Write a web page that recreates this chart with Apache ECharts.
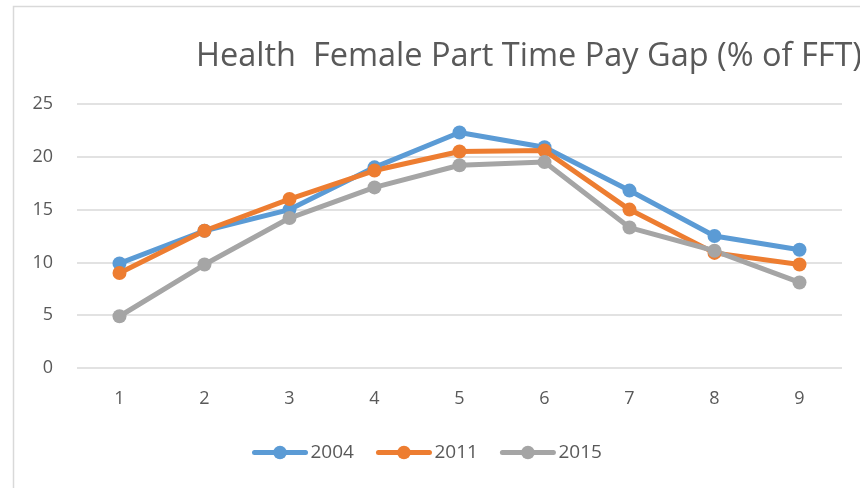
<!DOCTYPE html>
<html>
<head>
<meta charset="utf-8">
<script src="https://cdn.jsdelivr.net/npm/echarts@6/dist/echarts.min.js"></script>
<style>
  html, body { margin: 0; padding: 0; background: #fff; }
  #chart { width: 860px; height: 488px; }
</style>
</head>
<body>
<div id="chart"></div>
<script>
const categories = ['1', '2', '3', '4', '5', '6', '7', '8', '9'];
const gap2004 = [9.9, 13.0, 15.0, 19.0, 22.3, 20.9, 16.8, 12.5, 11.2];
const gap2011 = [9.0, 13.0, 16.0, 18.7, 20.5, 20.6, 15.0, 10.9, 9.8];
const gap2015 = [4.9, 9.8, 14.2, 17.1, 19.2, 19.5, 13.3, 11.1, 8.1];
const seriesNames = ['2004', '2011', '2015'];
const colors = ['#5b9bd5', '#ed7d31', '#a5a5a5'];

const FONT = '"Open Sans", "Noto Sans", sans-serif';
const TEXT = '#595959';

function lineSeries(name, data, color) {
  return {
    name: name,
    type: 'line',
    data: data,
    color: color,
    symbol: 'circle',
    symbolSize: 14,
    lineStyle: { width: 5, color: color, cap: 'round', join: 'round' },
    itemStyle: { color: color },
    emphasis: { disabled: true },
    animation: false
  };
}

const chart = echarts.init(document.getElementById('chart'), null, { renderer: 'canvas' });
chart.setOption({
  backgroundColor: '#fff',
  graphic: [{
    type: 'rect',
    shape: { x: 13.5, y: 6.5, width: 1000, height: 600 },
    style: { fill: 'none', stroke: '#d9d9d9', lineWidth: 1.5 },
    silent: true
  }],
  title: {
    text: 'Health  Female Part Time Pay Gap (% of FFT)',
    left: 191,
    top: 35,
    textStyle: { fontFamily: FONT, fontSize: 32.5, fontWeight: 'normal', color: TEXT }
  },
  legend: {
    data: seriesNames,
    top: 438,
    left: 247,
    itemWidth: 51,
    itemHeight: 17,
    itemGap: 22,
    lineStyle: { width: 5, cap: 'round' },
    textStyle: { fontFamily: FONT, fontSize: 19, color: TEXT }
  },
  grid: { left: 77, right: 18, top: 104, bottom: 120 },
  xAxis: {
    type: 'category',
    data: categories,
    boundaryGap: true,
    axisLine: { show: false },
    axisTick: { show: false },
    axisLabel: { fontFamily: FONT, fontSize: 18, color: TEXT, margin: 22 }
  },
  yAxis: {
    type: 'value',
    min: 0,
    max: 25,
    interval: 5,
    axisLine: { show: false },
    axisTick: { show: false },
    axisLabel: { fontFamily: FONT, fontSize: 18, color: TEXT, margin: 24 },
    splitLine: { lineStyle: { color: '#d9d9d9', width: 1.5 } }
  },
  series: [
    lineSeries(seriesNames[0], gap2004, colors[0]),
    lineSeries(seriesNames[1], gap2011, colors[1]),
    lineSeries(seriesNames[2], gap2015, colors[2])
  ]
});
</script>
</body>
</html>
